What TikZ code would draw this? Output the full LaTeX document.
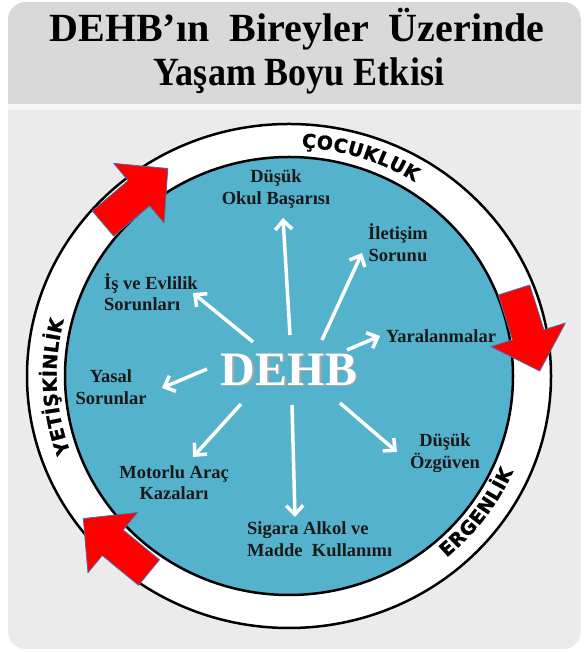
\documentclass[tikz,border=0pt]{standalone}
\usepackage{fontspec}
\setmainfont{Liberation Serif}
\newfontfamily\bandfont{DejaVu Sans}[BoldFeatures={FakeBold=1.2}]
\usetikzlibrary{arrows.meta}
\definecolor{panel}{RGB}{235,235,235}
\definecolor{headergray}{RGB}{217,217,217}
\definecolor{disc}{RGB}{85,178,204}
\definecolor{redarrow}{RGB}{255,0,0}
\definecolor{arrowedge}{RGB}{80,110,160}
\newcommand\blockarrow[3]{%
  \begin{scope}[shift={(#1,#2)},rotate=#3]
    \filldraw[fill=redarrow,draw=arrowedge,line width=0.8,line join=round]
      (0,-16.5) -- (47,-16.5) -- (47,-39) -- (85,0) -- (47,39) -- (47,16.5) -- (0,16.5) -- cycle;
  \end{scope}}
\begin{document}
\begin{tikzpicture}[x=1pt,y=1pt,
  titletext/.style={font=\fontsize{40}{40}\selectfont\bfseries, inner sep=0},
  lab/.style={font=\fontsize{18.5}{21.5}\selectfont\bfseries, text=black!90, align=center, inner sep=0},
  labl/.style={lab, align=left, anchor=west},
  wa/.style={draw=white, line width=3.5, -{Straight Barb[length=9pt,width=17pt]}},
  bandletter/.style={font=\bandfont\bfseries\fontsize{19}{19}\selectfont, inner sep=0, anchor=base},
  ring/.style={line width=2.5}]
\useasboundingbox (0,0) rectangle (584,652);
\fill[white] (0,0) rectangle (584,652);
\begin{scope}
  \clip[rounded corners=18pt] (8,3) rectangle (581,650);
  \fill[panel] (8,3) rectangle (581,650);
  \fill[headergray] (8,548) rectangle (581,650);
  \fill[white!55!panel] (8,542) rectangle (581,548);
\end{scope}
% title
\node[titletext, anchor=base] (t1) at (297,610) {DEHB’ın\ \ Bireyler\ \ Üzerinde};
\node[titletext, anchor=base] (t2) at (299,566) {\scalebox{0.9}[1]{Yaşam Boyu Etkisi}};
% rings
\draw[ring, fill=white] (289,276) ellipse [x radius=262, y radius=252];
\draw[ring, fill=disc] (289,276) ellipse [x radius=224, y radius=219];
% red arrows
\blockarrow{103}{428.5}{40.3}
\blockarrow{514}{362}{-72.4}
\blockarrow{149}{79.5}{140.6}
% band labels, letter by letter along the ring
\begin{scope}[shift={(289,276)}]
  \foreach \ch/\t [count=\k] in {Ç/85.28, O/81.53, C/77.77, U/74.10, K/70.33, L/66.98, U/63.53, K/59.77}
    \node[bandletter, rotate=\t-90] (coc\k) at (\t:237 and 229) {\ch};
  \foreach \ch/\t [count=\k] in {E/-48.47, R/-45.04, G/-41.30, E/-37.76, N/-34.18, L/-30.71, İ/-28.27, K/-25.53}
    \node[bandletter, rotate=\t+90] (erg\k) at (\t:245 and 237) {\ch};
  \foreach \ch/\t [count=\k] in {Y/198.21, E/194.72, T/191.33, İ/188.70, Ş/185.99, K/182.27, İ/179.42, N/176.41, L/172.75, İ/170.24, K/167.39}
    \node[bandletter, rotate=\t-90] (yet\k) at (\t:232.5 and 224) {\ch};
\end{scope}
% centre
\node[font=\fontsize{48}{48}\selectfont\bfseries, text=black!35, inner sep=0] (dehbshadow) at (290.5,281) {DEHB};
\node[font=\fontsize{48}{48}\selectfont\bfseries, text=white, inner sep=0] (dehb) at (289,282.5) {DEHB};
% labels
\node[lab] (okul) at (276,463) {Düşük\\Okul Başarısı};
\node[lab] (iletisim) at (398,409.5) {İletişim\\Sorunu};
\node[lab] (yaralan) at (441,316) {Yaralanmalar};
\node[lab] (ozguven) at (445,199) {Düşük\\Özgüven};
\node[labl] (sigara) at (247,113) {Sigara Alkol ve\\Madde\ \ Kullanımı};
\node[lab] (motorlu) at (174,169.5) {Motorlu Araç\\Kazaları};
\node[lab] (yasal) at (111,265) {Yasal\\Sorunlar};
\node[labl] (isevlilik) at (104,360) {İş ve Evlilik\\Sorunları};
% white arrows
\coordinate (s1) at (290,317); \coordinate (e1) at (283,434);
\coordinate (s2) at (322,312); \coordinate (e2) at (362,399);
\coordinate (s3) at (347,302); \coordinate (e3) at (380,316);
\coordinate (s4) at (340,249); \coordinate (e4) at (397,200);
\coordinate (s5) at (292,247); \coordinate (e5) at (295,135);
\coordinate (s6) at (241,248); \coordinate (e6) at (193,195);
\coordinate (s7) at (207,283); \coordinate (e7) at (162,264);
\coordinate (s8) at (253,310); \coordinate (e8) at (193,359);
\foreach \i in {1,...,8} \draw[wa] (s\i) -- (e\i);
\end{tikzpicture}
\end{document}
